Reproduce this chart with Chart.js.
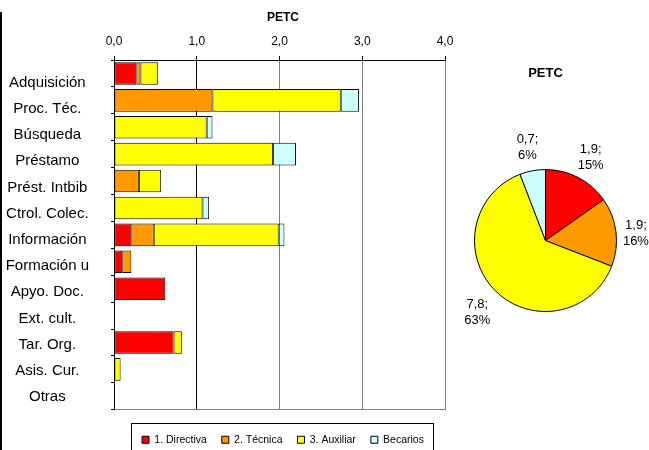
<!DOCTYPE html>
<html><head><meta charset="utf-8">
<script src="https://cdn.jsdelivr.net/npm/chart.js@4.4.0/dist/chart.umd.min.js"></script>
<style>
html,body{margin:0;padding:0;background:#fff;}
#wrap{position:relative;width:649px;height:450px;overflow:hidden;background:#fff;}
#bar{position:absolute;left:0;top:0;}
#pie{position:absolute;left:449px;top:40px;}
#edge{position:absolute;left:0;top:12px;width:2px;height:438px;background:#000;}
</style></head><body>
<div id="wrap">
<canvas id="bar" width="566" height="455" style="width:566px;height:455px"></canvas>
<canvas id="pie" width="200" height="400" style="width:200px;height:400px"></canvas>
<div id="edge"></div>
</div>
<script>
const categories = ['Adquisición','Proc. Téc.','Búsqueda','Préstamo','Prést. Intbib','Ctrol. Colec.','Información','Formación u','Apyo. Doc.','Ext. cult.','Tar. Org.','Asis. Cur.','Otras'];
const directiva = [0.27, 0, 0, 0, 0, 0, 0.21, 0.10, 0.62, 0.01, 0.72, 0, 0];
const tecnica   = [0.05, 1.19, 0, 0, 0.30, 0, 0.27, 0.11, 0, 0, 0, 0, 0];
const auxiliar  = [0.21, 1.55, 1.12, 1.92, 0.27, 1.07, 1.51, 0, 0, 0, 0.10, 0.08, 0];
const becarios  = [0, 0.22, 0.07, 0.28, 0, 0.08, 0.07, 0, 0, 0, 0, 0, 0];
const seriesNames = ['1. Directiva', '2. Técnica', '3. Auxiliar', 'Becarios'];
const seriesColors = ['#FF0000', '#FF9900', '#FFFF00', '#CCFFFF'];
const xTicks = [0, 1, 2, 3, 4];
const pieValues = [1.88, 1.93, 7.8, 0.72];
const chartTitle = 'PETC';

const FAMILY = '"Liberation Sans", Arial, sans-serif';
Chart.defaults.font.family = FAMILY;
Chart.defaults.color = '#000';

const fmt = v => v.toFixed(1).replace('.', ',');

const legendFrame = {
  id: 'legendFrame',
  afterDraw(chart) {
    const lg = chart.legend;
    if (!lg || !lg.legendHitBoxes || !lg.legendHitBoxes.length) return;
    const hb = lg.legendHitBoxes;
    const first = hb[0], last = hb[hb.length - 1];
    const l = first.left - 11, r = last.left + last.width + 9;
    const t = first.top - 12, b = first.top + first.height + 12;
    const ctx = chart.ctx;
    ctx.save();
    ctx.strokeStyle = '#000';
    ctx.lineWidth = 1;
    ctx.strokeRect(Math.round(l) + 0.5, Math.round(t) + 0.5, Math.round(r - l), Math.round(b - t));
    ctx.restore();
  }
};

const stackSeries = [directiva, tecnica, auxiliar, becarios];
new Chart(document.getElementById('bar'), {
  type: 'bar',
  data: {
    labels: categories,
    datasets: stackSeries.map((d, i) => ({
      label: seriesNames[i], data: d, backgroundColor: seriesColors[i],
      xAxisID: 'x', yAxisID: 'y',
      borderColor: '#000', borderWidth: 1, borderSkipped: false,
      barPercentage: 0.84, categoryPercentage: 1
    }))
  },
  options: {
    responsive: false, animation: false, indexAxis: 'y',
    layout: { padding: 0 },
    scales: {
      x: {
        type: 'linear', position: 'top', stacked: true, min: xTicks[0], max: xTicks[xTicks.length - 1],
        afterBuildTicks: s => { s.ticks = xTicks.map(v => ({ value: v })); },
        afterFit: s => { s.height = 35.6; },
        ticks: { callback: v => fmt(v), font: { size: 12 }, color: '#000', padding: 7 },
        grid: { color: c => (c.tick && (c.tick.value === 1 || c.tick.value === 0)) ? '#000' : '#808080', tickColor: '#000', tickLength: 4, lineWidth: 1 },
        border: { color: '#000' }
      },
      x2: {
        type: 'linear', axis: 'x', position: 'bottom', min: 0, max: 4, display: true,
        ticks: { display: false }, grid: { display: false, drawTicks: false },
        border: { color: '#808080' },
        afterFit: s => { s.height = 9.75; }
      },
      y: {
        type: 'category', axis: 'y', stacked: true, weight: 0, position: 'left',
        afterFit: s => { s.width = 3; },
        ticks: { display: false },
        grid: { drawOnChartArea: false, color: '#000', tickLength: 3, offset: true },
        border: { color: '#000' }
      },
      yRight: {
        type: 'linear', axis: 'y', position: 'right', display: true, min: 0, max: 1, offset: false,
        ticks: { display: false }, grid: { display: false, drawTicks: false },
        border: { display: false },
        afterFit: s => { s.width = 121; }
      },
      yLabels: {
        type: 'linear', axis: 'y', position: 'left', weight: 1, reverse: true, offset: false,
        min: -0.864, max: 12.482, grace: 0,
        afterBuildTicks: s => { s.ticks = categories.map((c, i) => ({ value: i })); },
        afterFit: s => { s.width = 111; },
        ticks: { callback: (v, i) => categories[i], font: { size: 15 }, color: '#000', crossAlign: 'center', padding: 22, autoSkip: false },
        grid: { display: false, drawTicks: false, offset: false },
        border: { display: false }
      }
    },
    plugins: {
      title: { display: true, text: chartTitle, font: { size: 12, weight: 'bold' }, color: '#000', padding: { top: 10, bottom: 0 } },
      legend: {
        position: 'bottom',
        labels: { boxWidth: 7, boxHeight: 7, padding: 15, font: { size: 10.5 }, color: '#000' }
      },
      tooltip: { enabled: false }
    }
  },
  plugins: [legendFrame]
});

const pieLabels = {
  id: 'pieLabels',
  afterDatasetsDraw(chart) {
    const meta = chart.getDatasetMeta(0);
    const data = chart.data.datasets[0].data;
    const total = data.reduce((a, b) => a + b, 0);
    const ctx = chart.ctx;
    ctx.save();
    ctx.font = '13px ' + FAMILY;
    ctx.fillStyle = '#000';
    ctx.textAlign = 'center';
    ctx.textBaseline = 'middle';
    meta.data.forEach((arc, i) => {
      const p = arc.getProps(['x', 'y', 'startAngle', 'endAngle', 'outerRadius'], true);
      const mid = (p.startAngle + p.endAngle) / 2;
      const r = p.outerRadius + 19 + 9 * Math.abs(Math.sin(mid));
      const tx = p.x + Math.cos(mid) * r, ty = p.y + Math.sin(mid) * r + 4;
      ctx.fillText(fmt(data[i]) + ';', tx, ty - 8);
      ctx.fillText(Math.round(data[i] / total * 100) + '%', tx, ty + 8);
    });
    ctx.restore();
  }
};

new Chart(document.getElementById('pie'), {
  type: 'pie',
  data: {
    labels: seriesNames,
    datasets: [{ data: pieValues, backgroundColor: seriesColors, borderColor: '#000', borderWidth: 1, radius: 71 }]
  },
  options: {
    responsive: false, animation: false,
    layout: { padding: { left: 0, right: 7, top: 0, bottom: 40 } },
    plugins: {
      title: { display: true, text: chartTitle, font: { size: 13, weight: 'bold' }, color: '#000', padding: { top: 25.5, bottom: 0 } },
      legend: { display: false },
      tooltip: { enabled: false }
    }
  },
  plugins: [pieLabels]
});
</script>
</body></html>
